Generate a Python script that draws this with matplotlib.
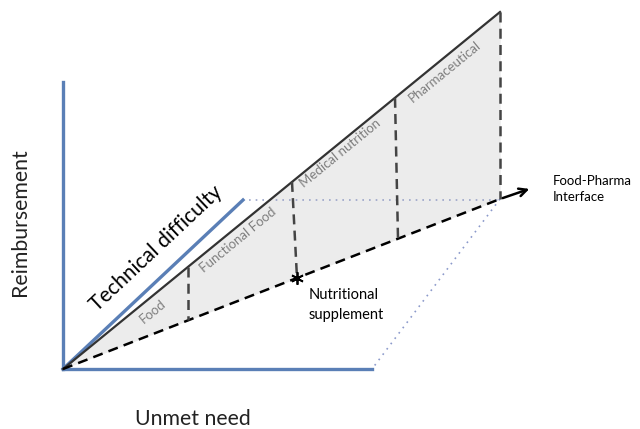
import matplotlib.pyplot as plt
import numpy as np

# diagram geometry in pixel coordinates (origin top-left)
origin = (63, 369)
apex = (500, 12)            # top of the solid line
base_end = (500, 199)       # end of the dashed line
arrow_tip = (532, 188)
axis_y_top = 82
axis_x_right = 372
tech_end = (243, 200)

dividers_top_x = [188, 292, 395]
dividers_bot_x = [188, 297, 398]

categories = ["Food", "Functional Food", "Medical nutrition", "Pharmaceutical"]
cat_pos = [(153, 311), (238, 240), (340, 153), (445, 72)]

blue = "#5a7fb6"
font = ["Lato", "DejaVu Sans"]

def y_on(p0, p1, x):
    return p0[1] + (p1[1] - p0[1]) * (x - p0[0]) / (p1[0] - p0[0])

fig = plt.figure(figsize=(6.4, 4.29), dpi=100)
ax = fig.add_axes([0, 0, 1, 1])
ax.set_xlim(0, 640)
ax.set_ylim(429, 0)
ax.axis("off")

# gray wedge
ax.fill([origin[0], apex[0], base_end[0]], [origin[1], apex[1], base_end[1]],
        color="#ececec", zorder=1)

# blue axes
ax.plot([origin[0], origin[0]], [origin[1], axis_y_top], color=blue, lw=2.4, zorder=2)
ax.plot([origin[0], axis_x_right], [origin[1], origin[1]], color=blue, lw=2.4, zorder=2)
ax.plot([origin[0], tech_end[0]], [origin[1], tech_end[1]], color=blue, lw=2.4, zorder=2)

# dotted parallelogram edges
ax.plot([tech_end[0] + 6, base_end[0]], [tech_end[1], tech_end[1]], color="#9aa3c8",
        lw=1.2, ls=(0, (1, 3)), zorder=2)
ax.plot([base_end[0], axis_x_right], [base_end[1], origin[1]], color="#8c9acb",
        lw=1.2, ls=(0, (1, 3)), zorder=2)

# solid top line
ax.plot([origin[0], apex[0]], [origin[1], apex[1]], color="#333333", lw=1.6, zorder=3)
# dashed lower line
ax.plot([origin[0], base_end[0]], [origin[1], base_end[1]], color="black", lw=1.8,
        ls=(0, (4, 2.5)), zorder=3)
# dashed right edge and dividers
ax.plot([apex[0], base_end[0]], [apex[1], base_end[1]], color="#444444", lw=1.8,
        ls=(0, (4, 2.5)), zorder=3)
for xt, xb in zip(dividers_top_x, dividers_bot_x):
    ax.plot([xt, xb], [y_on(origin, apex, xt), y_on(origin, base_end, xb)],
            color="#444444", lw=1.8, ls=(0, (4, 2.5)), zorder=3)

# arrow
ax.annotate("", xy=arrow_tip, xytext=base_end,
            arrowprops=dict(arrowstyle="->", color="black", lw=1.8, mutation_scale=14))

# star marker
ax.plot([dividers_bot_x[1]], [y_on(origin, base_end, dividers_bot_x[1])], marker=(6, 2, 0),
        color="black", ms=9, mew=1.3, zorder=4)

# category labels
ang_top = np.degrees(np.arctan2(origin[1] - apex[1], apex[0] - origin[0]))
for name, (x, y) in zip(categories, cat_pos):
    ax.text(x, y, name, rotation=ang_top, rotation_mode="anchor", ha="center",
            va="center", color="#7f7f7f", fontsize=9.5, family=font)

ang_tech = np.degrees(np.arctan2(origin[1] - tech_end[1], tech_end[0] - origin[0]))
ax.text(156, 248, "Technical difficulty", rotation=ang_tech, rotation_mode="anchor",
        ha="center", va="center", color="black", fontsize=15, family=font)

ax.text(20, 222, "Reimbursement", rotation=90, ha="center", va="center",
        fontsize=15.3, color="#222222", family=font)
ax.text(193, 419, "Unmet need", ha="center", va="center", fontsize=15.3,
        color="#222222", family=font)
ax.text(309, 305, "Nutritional\nsupplement", ha="left", va="center", fontsize=10.5,
        color="black", family=font, linespacing=1.55)
ax.text(553, 189, "Food-Pharma\nInterface", ha="left", va="center", fontsize=9.5,
        color="black", family=font, linespacing=1.35)

fig.savefig("out.png", dpi=100)
